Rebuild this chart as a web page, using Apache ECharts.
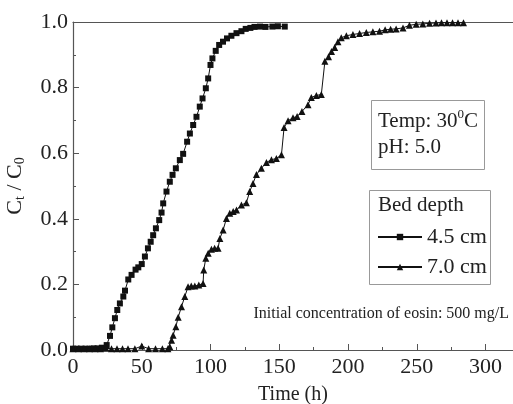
<!DOCTYPE html>
<html>
<head>
<meta charset="utf-8">
<script src="https://cdn.jsdelivr.net/npm/echarts@6/dist/echarts.min.js"></script>
<style>html,body{margin:0;padding:0;background:#fff}#c{width:513px;height:404px}</style>
</head>
<body>
<div id="c"></div>
<script>
// Series: bed depth 4.5 cm (squares)
var sqTime = [0,3,6,9,12,15,18,21,24.5,26.9,28.6,30.5,32.2,34.1,36.6,37.8,40.2,42.6,45.5,47.5,50,52.3,54.5,56.5,58.3,60.3,62.7,64.4,65.6,68,70.4,72.4,74.8,77.7,80.1,83,85,87.4,89.8,92.2,94.2,96.6,98.3,100,101.4,103.8,106.3,109.1,112,115.2,118.9,122.5,125.6,129,132,136,140,145,149,154];
var sqVal = [0.004,0.004,0.004,0.004,0.004,0.005,0.005,0.007,0.015,0.043,0.069,0.097,0.122,0.142,0.163,0.181,0.215,0.229,0.245,0.252,0.262,0.285,0.31,0.33,0.35,0.371,0.396,0.419,0.447,0.483,0.513,0.534,0.554,0.579,0.598,0.635,0.66,0.686,0.711,0.742,0.767,0.798,0.828,0.869,0.889,0.912,0.93,0.94,0.95,0.958,0.966,0.972,0.979,0.982,0.985,0.986,0.985,0.986,0.987,0.986];
// Series: bed depth 7.0 cm (triangles)
var triTime = [0,4,8,12,16,20,24,28,32,36,40,45,50,55,60,65,69,70.4,71.7,72.8,74.8,76.5,78.9,81.3,83.7,86,88.6,91.5,94.6,95.1,96.6,98.3,100.7,103,105.5,106.8,109.2,111.6,114,116.5,118.9,122.5,126.1,128.5,130.9,133.4,137,140.7,144.3,147.9,151.6,153.5,156.4,160,163,166.5,170.9,173.3,177,180.6,183.2,185.8,188,190.3,192.7,195.1,198.8,203.6,208.4,213.3,218.1,222.9,227,231,235,240,244.7,249.6,254.4,259.3,264,268,272,276,280,284];
var triVal = [0.004,0.004,0.004,0.004,0.004,0.004,0.005,0.004,0.004,0.004,0.004,0.004,0.012,0.004,0.004,0.004,0.004,0.01,0.03,0.045,0.071,0.10,0.132,0.163,0.193,0.195,0.195,0.198,0.203,0.244,0.28,0.295,0.307,0.31,0.31,0.34,0.366,0.401,0.417,0.422,0.427,0.442,0.449,0.483,0.508,0.535,0.554,0.572,0.58,0.584,0.595,0.678,0.699,0.708,0.712,0.727,0.748,0.77,0.776,0.779,0.88,0.894,0.91,0.922,0.94,0.952,0.958,0.962,0.965,0.968,0.97,0.972,0.976,0.978,0.979,0.982,0.99,0.993,0.994,0.996,0.997,0.998,0.998,0.998,0.998,0.998];
var seriesNames = ['4.5 cm', '7.0 cm'];
var xTicks = {min: 0, max: 320, interval: 50};
var yTicks = {min: 0, max: 1, interval: 0.2};

function zip(a, b) { return a.map(function (t, i) { return [t, b[i]]; }); }

var FONT = 'Liberation Serif';
var TXT = '#222';
var AX = '#555';
var chart = echarts.init(document.getElementById('c'), null, {renderer: 'canvas'});
chart.setOption({
  animation: false,
  backgroundColor: '#fff',
  grid: {left: 73, top: 22, right: 0, bottom: 54, containLabel: false, outerBoundsMode: 'none'},
  xAxis: [{
    type: 'value', min: xTicks.min, max: xTicks.max, interval: xTicks.interval,
    name: 'Time (h)', nameLocation: 'middle', nameGap: 35,
    nameTextStyle: {fontFamily: FONT, fontSize: 20, color: TXT},
    axisLine: {lineStyle: {color: AX, width: 1.2}},
    axisTick: {inside: true, length: 6, lineStyle: {color: AX}},
    minorTick: {show: true, splitNumber: 2, length: 3, lineStyle: {color: AX}},
    axisLabel: {fontFamily: FONT, fontSize: 22, color: TXT, margin: 6,
      formatter: function (v) { return v > 300 ? '' : String(v); }},
    splitLine: {show: false}
  }, {
    type: 'value', position: 'top', min: xTicks.min, max: xTicks.max,
    axisLine: {show: true, lineStyle: {color: AX, width: 1.2}},
    axisTick: {show: false}, axisLabel: {show: false}, splitLine: {show: false}
  }],
  yAxis: [{
    type: 'value', min: yTicks.min, max: yTicks.max, interval: yTicks.interval,
    name: '{c|C}{s|t}{c| / C}{s|0}', nameLocation: 'middle', nameGap: 35, nameRotate: 90,
    nameTextStyle: {
      fontFamily: FONT, color: TXT,
      rich: {
        c: {fontFamily: FONT, fontSize: 22, color: TXT, lineHeight: 28, verticalAlign: 'middle'},
        s: {fontFamily: FONT, fontSize: 14, color: TXT, lineHeight: 28, verticalAlign: 'bottom', padding: [0, 0, 2, 0]}
      }
    },
    axisLine: {show: true, lineStyle: {color: AX, width: 1.2}},
    axisTick: {inside: true, length: 6, lineStyle: {color: AX}},
    minorTick: {show: true, splitNumber: 2, length: 3, lineStyle: {color: AX}},
    axisLabel: {fontFamily: FONT, fontSize: 22, color: TXT, margin: 5,
      formatter: function (v) { return v.toFixed(1); }},
    splitLine: {show: false}
  }],
  legend: {
    orient: 'vertical', left: 377, top: 226, itemWidth: 44, itemHeight: 8, itemGap: 8,
    padding: 0,
    textStyle: {fontFamily: FONT, fontSize: 22, color: TXT},
    data: seriesNames
  },
  series: [{
    name: seriesNames[0], type: 'line', data: zip(sqTime, sqVal),
    symbol: 'rect', symbolSize: 6, showSymbol: true,
    lineStyle: {color: '#111', width: 1}, itemStyle: {color: '#111'}
  }, {
    name: seriesNames[1], type: 'line', data: zip(triTime, triVal),
    symbol: 'triangle', symbolSize: 7, showSymbol: true,
    lineStyle: {color: '#111', width: 1}, itemStyle: {color: '#111'}
  }],
  graphic: [
    {type: 'rect', left: 369, top: 98, shape: {width: 113, height: 69},
      style: {fill: 'none', stroke: '#999', lineWidth: 1}, z: 10},
    {type: 'text', left: 378, top: 108, z: 11,
      style: {text: '{n|Temp: 30}{u|0}{n|C}', fontFamily: FONT, fill: TXT,
        rich: {n: {fontFamily: FONT, fontSize: 21, fill: TXT, lineHeight: 24, verticalAlign: 'bottom'},
               u: {fontFamily: FONT, fontSize: 13, fill: TXT, lineHeight: 24, verticalAlign: 'top'}}}},
    {type: 'text', left: 378, top: 137, z: 11,
      style: {text: 'pH: 5.0', fontFamily: FONT, fontSize: 21, fill: TXT}},
    {type: 'rect', left: 367, top: 188, shape: {width: 121, height: 94},
      style: {fill: 'none', stroke: '#999', lineWidth: 1}, z: 10},
    {type: 'text', left: 378, top: 195, z: 11,
      style: {text: 'Bed depth', fontFamily: FONT, fontSize: 21, fill: TXT}},
    {type: 'text', right: 4, top: 306, z: 11,
      style: {text: 'Initial concentration of eosin: 500 mg/L', fontFamily: FONT, fontSize: 16, fill: TXT}}
  ]
});
</script>
</body>
</html>
